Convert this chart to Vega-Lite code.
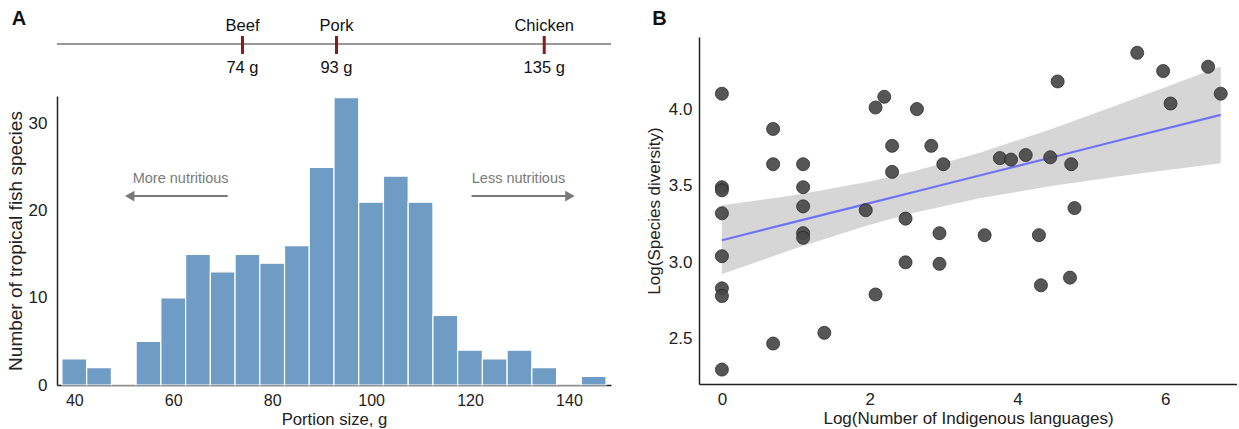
{
  "$schema": "https://vega.github.io/schema/vega-lite/v6.json",
  "padding": {"left": 6, "top": 8, "right": 0, "bottom": 0},
  "autosize": {"type": "pad"},
  "background": "white",
  "spacing": 33,
  "config": {
    "font": "Liberation Sans",
    "view": {"stroke": null},
    "axis": {"grid": false, "ticks": false, "domainColor": "#222222", "domainWidth": 1.5, "labelFont": "Liberation Sans", "labelFontSize": 16, "labelColor": "#222222", "titleFont": "Liberation Sans", "titleFontSize": 16, "titleFontWeight": "normal", "titleColor": "#222222", "labelPadding": 8}
  },
  "datasets": {
    "meats": [
      {"meat": "Beef", "grams": 74, "label": "74 g"},
      {"meat": "Pork", "grams": 93, "label": "93 g"},
      {"meat": "Chicken", "grams": 135, "label": "135 g"}
    ],
    "panelA": [{"tag": "A"}],
    "panelB": [{"tag": "B"}],
    "hist": [
      {"bin_start": 37.5, "bin_end": 42.5, "count": 3},
      {"bin_start": 42.5, "bin_end": 47.5, "count": 2},
      {"bin_start": 47.5, "bin_end": 52.5, "count": 0},
      {"bin_start": 52.5, "bin_end": 57.5, "count": 5},
      {"bin_start": 57.5, "bin_end": 62.5, "count": 10},
      {"bin_start": 62.5, "bin_end": 67.5, "count": 15},
      {"bin_start": 67.5, "bin_end": 72.5, "count": 13},
      {"bin_start": 72.5, "bin_end": 77.5, "count": 15},
      {"bin_start": 77.5, "bin_end": 82.5, "count": 14},
      {"bin_start": 82.5, "bin_end": 87.5, "count": 16},
      {"bin_start": 87.5, "bin_end": 92.5, "count": 25},
      {"bin_start": 92.5, "bin_end": 97.5, "count": 33},
      {"bin_start": 97.5, "bin_end": 102.5, "count": 21},
      {"bin_start": 102.5, "bin_end": 107.5, "count": 24},
      {"bin_start": 107.5, "bin_end": 112.5, "count": 21},
      {"bin_start": 112.5, "bin_end": 117.5, "count": 8},
      {"bin_start": 117.5, "bin_end": 122.5, "count": 4},
      {"bin_start": 122.5, "bin_end": 127.5, "count": 3},
      {"bin_start": 127.5, "bin_end": 132.5, "count": 4},
      {"bin_start": 132.5, "bin_end": 137.5, "count": 2},
      {"bin_start": 137.5, "bin_end": 142.5, "count": 0},
      {"bin_start": 142.5, "bin_end": 147.5, "count": 1}
    ],
    "notes": [
      {"text": "More nutritious", "text_x": 61.5, "text_y": 23.7, "tail": 71, "head": 51.2, "arrow_y": 21.7, "shape": "triangle-left"},
      {"text": "Less nutritious", "text_x": 129.8, "text_y": 23.7, "tail": 120.3, "head": 140.2, "arrow_y": 21.7, "shape": "triangle-right"}
    ],
    "band": [
      {"x": 0, "fit": 3.144, "lo": 2.923, "hi": 3.372},
      {"x": 1, "fit": 3.265, "lo": 3.091, "hi": 3.439},
      {"x": 2, "fit": 3.386, "lo": 3.245, "hi": 3.527},
      {"x": 2.6, "fit": 3.459, "lo": 3.324, "hi": 3.594},
      {"x": 3.5, "fit": 3.568, "lo": 3.42, "hi": 3.716},
      {"x": 4.5, "fit": 3.689, "lo": 3.501, "hi": 3.877},
      {"x": 5.5, "fit": 3.811, "lo": 3.57, "hi": 4.052},
      {"x": 6.75, "fit": 3.962, "lo": 3.646, "hi": 4.278}
    ],
    "points": [
      {"lang": 0, "div": 4.10}, {"lang": 0, "div": 3.49}, {"lang": 0, "div": 3.47}, {"lang": 0, "div": 3.32},
      {"lang": 0, "div": 3.04}, {"lang": 0, "div": 2.83}, {"lang": 0, "div": 2.78}, {"lang": 0, "div": 2.30},
      {"lang": 0.693, "div": 3.87}, {"lang": 0.693, "div": 3.64}, {"lang": 0.693, "div": 2.47},
      {"lang": 1.099, "div": 3.64}, {"lang": 1.099, "div": 3.49}, {"lang": 1.099, "div": 3.365}, {"lang": 1.099, "div": 3.19}, {"lang": 1.099, "div": 3.16},
      {"lang": 1.386, "div": 2.54}, {"lang": 1.946, "div": 3.34},
      {"lang": 2.079, "div": 4.01}, {"lang": 2.079, "div": 2.79}, {"lang": 2.197, "div": 4.08},
      {"lang": 2.303, "div": 3.76}, {"lang": 2.303, "div": 3.59},
      {"lang": 2.485, "div": 3.285}, {"lang": 2.485, "div": 3.00},
      {"lang": 2.639, "div": 4.00}, {"lang": 2.833, "div": 3.76},
      {"lang": 2.944, "div": 3.19}, {"lang": 2.944, "div": 2.99}, {"lang": 2.996, "div": 3.64},
      {"lang": 3.555, "div": 3.177}, {"lang": 3.761, "div": 3.68}, {"lang": 3.912, "div": 3.67}, {"lang": 4.111, "div": 3.70},
      {"lang": 4.290, "div": 3.177}, {"lang": 4.317, "div": 2.85}, {"lang": 4.443, "div": 3.685}, {"lang": 4.543, "div": 4.18},
      {"lang": 4.727, "div": 3.64}, {"lang": 4.710, "div": 2.90}, {"lang": 4.771, "div": 3.354},
      {"lang": 5.620, "div": 4.367}, {"lang": 5.971, "div": 4.248}, {"lang": 6.071, "div": 4.036},
      {"lang": 6.579, "div": 4.276}, {"lang": 6.750, "div": 4.10}
    ]
  },
  "hconcat": [
    {
      "spacing": 17,
      "vconcat": [
        {
          "width": 554,
          "height": 42,
          "layer": [
            {
              "data": {"name": "meats"},
              "mark": {"type": "rule", "color": "#8a8a8a", "strokeWidth": 1.2},
              "encoding": {
                "x": {"datum": 36.5, "type": "quantitative", "scale": {"domain": [36.5, 148.5], "nice": false, "zero": false}, "axis": null},
                "x2": {"datum": 148.5},
                "y": {"datum": 0.833, "type": "quantitative", "scale": {"domain": [0, 1]}, "axis": null}
              }
            },
            {
              "data": {"name": "meats"},
              "mark": {"type": "rule", "color": "#8b1a1a", "strokeWidth": 3, "clip": false},
              "encoding": {
                "x": {"field": "grams", "type": "quantitative"},
                "y": {"datum": 0.595, "type": "quantitative"},
                "y2": {"datum": 1.024}
              }
            },
            {
              "data": {"name": "meats"},
              "mark": {"type": "text", "fontSize": 16.5, "color": "#111111", "baseline": "middle", "align": "center", "clip": false},
              "encoding": {
                "x": {"field": "grams", "type": "quantitative"},
                "y": {"datum": 1.262, "type": "quantitative"},
                "text": {"field": "meat"}
              }
            },
            {
              "data": {"name": "meats"},
              "mark": {"type": "text", "fontSize": 16.5, "color": "#111111", "baseline": "middle", "align": "center"},
              "encoding": {
                "x": {"field": "grams", "type": "quantitative"},
                "y": {"datum": 0.262, "type": "quantitative"},
                "text": {"field": "label"}
              }
            },
            {
              "data": {"name": "panelA"},
              "mark": {"type": "text", "fontSize": 20, "fontWeight": "bold", "color": "#111111", "baseline": "middle", "align": "center", "clip": false},
              "encoding": {
                "x": {"datum": 28.8, "type": "quantitative"},
                "y": {"datum": 1.429, "type": "quantitative"},
                "text": {"field": "tag"}
              }
            }
          ]
        },
        {
          "width": 554,
          "height": 289,
          "layer": [
            {
              "data": {"name": "hist"},
              "mark": {"type": "rect", "color": "#6f9cc4", "stroke": "white", "strokeWidth": 1.2},
              "encoding": {
                "x": {"field": "bin_start", "type": "quantitative", "scale": {"domain": [36.5, 148.5], "nice": false, "zero": false}, "axis": {"values": [40, 60, 80, 100, 120, 140], "title": "Portion size, g", "labelPadding": 7, "titlePadding": 3, "titleFontSize": 16.7}},
                "x2": {"field": "bin_end"},
                "y": {"field": "count", "type": "quantitative", "scale": {"domain": [0, 33.2], "nice": false}, "axis": {"values": [0, 10, 20, 30], "title": "Number of tropical fish species", "labelPadding": 10, "titlePadding": 3, "labelFontSize": 17, "titleFontSize": 19}},
                "y2": {"datum": 0}
              }
            },
            {
              "data": {"name": "notes"},
              "mark": {"type": "text", "fontSize": 14.5, "color": "#7a7a7a", "baseline": "middle", "align": "center"},
              "encoding": {
                "x": {"field": "text_x", "type": "quantitative"},
                "y": {"field": "text_y", "type": "quantitative"},
                "text": {"field": "text"}
              }
            },
            {
              "data": {"name": "notes"},
              "mark": {"type": "rule", "color": "#7a7a7a", "strokeWidth": 2},
              "encoding": {
                "x": {"field": "tail", "type": "quantitative"},
                "x2": {"field": "head"},
                "y": {"field": "arrow_y", "type": "quantitative"}
              }
            },
            {
              "data": {"name": "notes"},
              "mark": {"type": "point", "filled": true, "color": "#7a7a7a", "opacity": 1, "size": 120},
              "encoding": {
                "x": {"field": "head", "type": "quantitative"},
                "y": {"field": "arrow_y", "type": "quantitative"},
                "shape": {"field": "shape", "type": "nominal", "scale": null}
              }
            }
          ]
        }
      ]
    },
    {
      "width": 538,
      "height": 347,
      "layer": [
        {
          "data": {"name": "band"},
          "mark": {"type": "area", "color": "#d6d6d6", "opacity": 1},
          "encoding": {
            "x": {"field": "x", "type": "quantitative", "scale": {"domain": [-0.31, 6.97], "nice": false, "zero": false}, "axis": {"values": [0, 2, 4, 6], "format": "d", "title": "Log(Number of Indigenous languages)", "labelPadding": 7, "titlePadding": 3, "labelFontSize": 17, "titleFontSize": 17}},
            "y": {"field": "lo", "type": "quantitative", "scale": {"domain": [2.206, 4.47], "nice": false, "zero": false}, "axis": {"values": [2.5, 3.0, 3.5, 4.0], "format": ".1f", "title": "Log(Species diversity)", "labelPadding": 7, "titlePadding": 5, "labelFontSize": 17, "titleFontSize": 17}},
            "y2": {"field": "hi"}
          }
        },
        {
          "data": {"name": "band"},
          "mark": {"type": "line", "color": "#7272f7", "strokeWidth": 2.2},
          "encoding": {
            "x": {"field": "x", "type": "quantitative"},
            "y": {"field": "fit", "type": "quantitative"}
          }
        },
        {
          "data": {"name": "points"},
          "mark": {"type": "point", "filled": true, "fill": "#484848", "stroke": "#1e1e1e", "strokeWidth": 0.8, "opacity": 0.92, "size": 170},
          "encoding": {
            "x": {"field": "lang", "type": "quantitative"},
            "y": {"field": "div", "type": "quantitative"}
          }
        },
        {
          "data": {"name": "panelB"},
          "mark": {"type": "text", "fontSize": 20, "fontWeight": "bold", "color": "#111111", "baseline": "middle", "align": "center", "clip": false},
          "encoding": {
            "x": {"datum": -0.845, "type": "quantitative"},
            "y": {"datum": 4.588, "type": "quantitative"},
            "text": {"field": "tag"}
          }
        }
      ]
    }
  ]
}
